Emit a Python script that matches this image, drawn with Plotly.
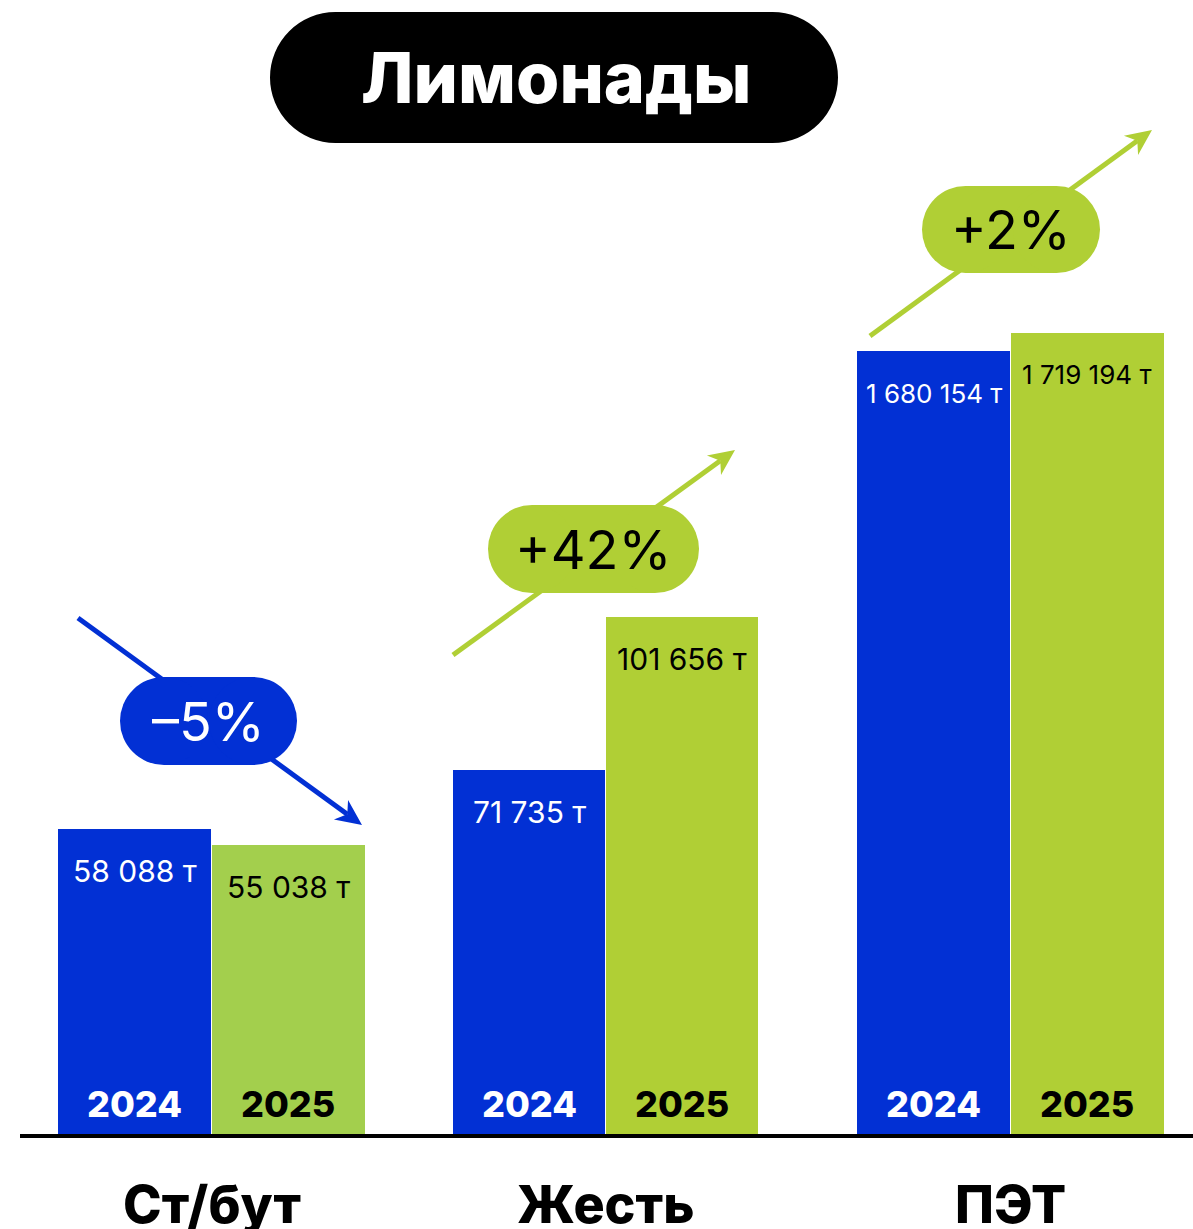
import plotly.graph_objects as go

# Data
categories  = ["Ст/бут", "Жесть", "ПЭТ"]
years       = ["2024", "2025"]
values_2024 = [58088, 71735, 1680154]
values_2025 = [55038, 101656, 1719194]

# Canvas
W, H = 1193, 1229
BLUE   = "#0230d4"
GREENS = ["#a3cf4d", "#b0cf35", "#b0cf35"]
FONT   = "Inter"

# each group has its own scale (bars are not comparable across groups)
y_max   = [214950, 222660, 2431400]
x_px    = [(58, 365), (453, 758), (857, 1164)]
base_px = 1136


def fx(px):
    return px / W


def fy(py):
    return 1 - py / H


def fmt(v):
    return f"{v:,}".replace(",", " ") + " т"


def pill(x0, y0, x1, y1, color):
    r = (y1 - y0) / 2
    common = dict(xref="paper", yref="paper", fillcolor=color, line_width=0)
    return [
        dict(type="rect", x0=fx(x0 + r), x1=fx(x1 - r), y0=fy(y1), y1=fy(y0), **common),
        dict(type="circle", x0=fx(x0), x1=fx(x0 + 2 * r), y0=fy(y1), y1=fy(y0), **common),
        dict(type="circle", x0=fx(x1 - 2 * r), x1=fx(x1), y0=fy(y1), y1=fy(y0), **common),
    ]


def arrow(xs, ys, xe, ye, color, width=5, head=26, half=12):
    dx, dy = xe - xs, ye - ys
    n = (dx ** 2 + dy ** 2) ** 0.5
    ux, uy = dx / n, dy / n
    nx, ny = -uy, ux
    bx, by = xe - ux * head, ye - uy * head
    mx, my = xe - ux * head * 0.7, ye - uy * head * 0.7
    pts = [(xe, ye), (bx + nx * half, by + ny * half), (mx, my), (bx - nx * half, by - ny * half)]
    path = "M " + " L ".join(f"{fx(a)},{fy(b)}" for a, b in pts) + " Z"
    return [
        dict(type="line", xref="paper", yref="paper",
             x0=fx(xs), y0=fy(ys), x1=fx(mx), y1=fy(my),
             line=dict(color=color, width=width)),
        dict(type="path", xref="paper", yref="paper", path=path,
             fillcolor=color, line_width=0),
    ]


fig = go.Figure()
annotations = []

for i in range(3):
    sfx = "" if i == 0 else str(i + 1)
    vals = [values_2024[i], values_2025[i]]
    fig.add_trace(go.Bar(
        x=years, y=vals,
        marker=dict(color=[BLUE, GREENS[i]], line_width=0),
        width=0.995,
        xaxis="x" + sfx, yaxis="y" + sfx,
        hoverinfo="skip", showlegend=False,
    ))
    fig.layout["xaxis" + sfx] = dict(
        domain=[fx(x_px[i][0]), fx(x_px[i][1])], range=[-0.5, 1.5],
        type="category", visible=False, anchor="y" + sfx, fixedrange=True,
    )
    fig.layout["yaxis" + sfx] = dict(
        domain=[fy(base_px), 1], range=[0, y_max[i]],
        visible=False, anchor="x" + sfx, fixedrange=True,
    )

    for j, (yr, v) in enumerate(zip(years, vals)):
        # value labels at top of bars
        annotations.append(dict(
            xref="x" + sfx, yref="y" + sfx, x=j, y=v,
            text=fmt(v), showarrow=False, yanchor="middle", yshift=-42,
            font=dict(family=FONT, size=30 if i < 2 else 26,
                      color="white" if j == 0 else "black"),
        ))
        # year labels at bottom of bars
        annotations.append(dict(
            xref="x" + sfx, yref="y" + sfx, x=j, y=0,
            text=yr, showarrow=False, yanchor="middle", yshift=32,
            font=dict(family=FONT, size=36, weight=800,
                      color="white" if j == 0 else "black"),
        ))

    # category label under group
    annotations.append(dict(
        xref="x" + sfx, yref="paper", x=0.5, y=fy(1204),
        text=categories[i], showarrow=False, yanchor="middle",
        font=dict(family=FONT, size=52, weight=800, color="black"),
    ))

# change badges
changes = [round((b / a - 1) * 100) for a, b in zip(values_2024, values_2025)]
badge_box = [(120, 677, 297, 765), (488, 505, 699, 593), (922, 186, 1100, 273)]
arrows    = [(78, 618, 362, 825), (453, 655, 735, 450), (870, 336, 1152, 130)]

shapes = []
for i, ch in enumerate(changes):
    col = BLUE if ch < 0 else GREENS[1]
    shapes += arrow(*arrows[i], col)
for i, ch in enumerate(changes):
    col = BLUE if ch < 0 else GREENS[1]
    x0, y0, x1, y1 = badge_box[i]
    shapes += pill(x0, y0, x1, y1, col)
    label = ("+" if ch > 0 else "–") + f"{abs(ch)}%"
    annotations.append(dict(
        xref="paper", yref="paper", x=fx((x0 + x1) / 2), y=fy((y0 + y1) / 2),
        text=label, showarrow=False, xanchor="center", yanchor="middle",
        font=dict(family=FONT, size=54, color="white" if ch < 0 else "black"),
    ))

# title pill
shapes += pill(270, 12, 838, 143, "black")
annotations.append(dict(
    xref="paper", yref="paper", x=fx(556), y=fy(78),
    text="Лимонады", showarrow=False, xanchor="center", yanchor="middle",
    font=dict(family=FONT, size=70, weight=800, color="white"),
))

# baseline
shapes.append(dict(type="line", xref="paper", yref="paper",
                   x0=fx(20), x1=1, y0=fy(base_px), y1=fy(base_px),
                   line=dict(color="black", width=4)))

fig.update_layout(
    width=W, height=H,
    margin=dict(l=0, r=0, t=0, b=0),
    paper_bgcolor="white", plot_bgcolor="rgba(0,0,0,0)",
    bargap=0,
    shapes=shapes,
    annotations=annotations,
)

fig.write_html("out.html", config={"displayModeBar": False},
               post_script="document.body.style.margin='0';")
